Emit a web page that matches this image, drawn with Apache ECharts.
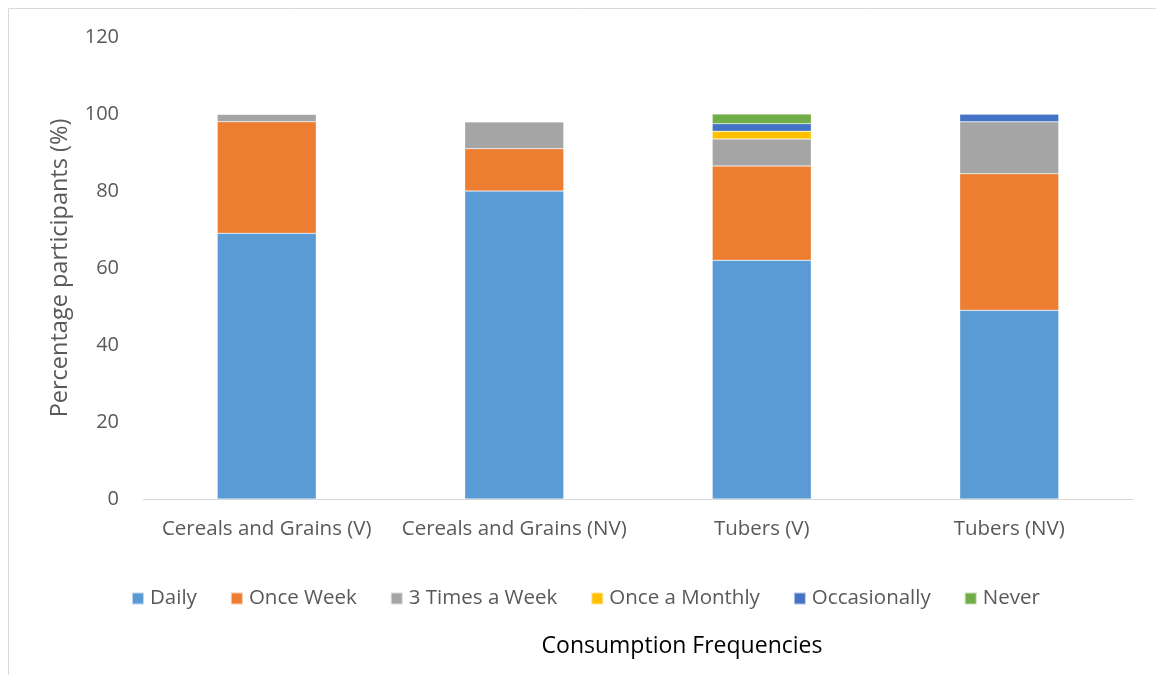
<!DOCTYPE html>
<html><head><meta charset="utf-8">
<script src="https://cdn.jsdelivr.net/npm/echarts@6/dist/echarts.min.js"></script>
<style>html,body{margin:0;padding:0;background:#fff}#c{width:1156px;height:675px}</style>
</head><body><div id="c"></div>
<script>
const categories = ['Cereals and Grains (V)', 'Cereals and Grains (NV)', 'Tubers (V)', 'Tubers (NV)'];
const daily = [69, 80, 62, 49];
const onceWeek = [29, 11, 24.5, 35.5];
const threeTimesWeek = [2, 7, 7, 13.5];
const onceMonthly = [0, 0, 2, 0];
const occasionally = [0, 0, 2, 2];
const never = [0, 0, 2.5, 0];
const yTicks = [0, 20, 40, 60, 80, 100, 120];

const seriesNames = ['Daily', 'Once Week', '3 Times a Week', 'Once a Monthly', 'Occasionally', 'Never'];
const seriesData = [daily, onceWeek, threeTimesWeek, onceMonthly, occasionally, never];
const colors = ['#5b9bd5', '#ed7d31', '#a5a5a5', '#ffc000', '#4472c4', '#70ad47'];
const font = '"Open Sans", "Liberation Sans", sans-serif';

const chart = echarts.init(document.getElementById('c'));
chart.setOption({
  animation: false,
  color: colors,
  textStyle: {fontFamily: font},
  grid: {left: 143, right: 23, top: 37, bottom: 176},
  legend: {
    top: 583, left: 126,
    itemWidth: 12, itemHeight: 12, itemGap: 33,
    icon: 'rect',
    textStyle: {fontSize: 20.5, color: '#595959', fontFamily: font, padding: [0, 0, 0, 1]},
    data: seriesNames
  },
  xAxis: {
    type: 'category', data: categories,
    name: 'Consumption Frequencies', nameLocation: 'middle', nameGap: 136,
    nameTextStyle: {fontSize: 23, color: '#000', fontFamily: font, padding: [0, 0, 0, 88]},
    axisLine: {lineStyle: {color: '#d9d9d9'}},
    axisTick: {show: false},
    axisLabel: {fontSize: 20.5, color: '#595959', margin: 20, interval: 0}
  },
  yAxis: {
    type: 'value', min: 0, max: 120, interval: 20,
    name: 'Percentage participants (%)', nameLocation: 'middle', nameGap: 71,
    nameTextStyle: {fontSize: 23.5, color: '#595959', fontFamily: font},
    axisLine: {show: false}, axisTick: {show: false},
    splitLine: {show: false},
    axisLabel: {fontSize: 20, color: '#595959', margin: 24}
  },
  series: seriesNames.map((n, i) => ({
    name: n, type: 'bar', stack: 'total', barWidth: '40%',
    itemStyle: {color: colors[i], borderColor: 'rgba(255,255,255,0.6)', borderWidth: 0.5},
    data: seriesData[i]
  })),
  graphic: [{type: 'rect', shape: {x: 8.5, y: 8.5, width: 1160, height: 700}, style: {fill: 'none', stroke: '#d9d9d9', lineWidth: 1}}]
});
</script></body></html>
